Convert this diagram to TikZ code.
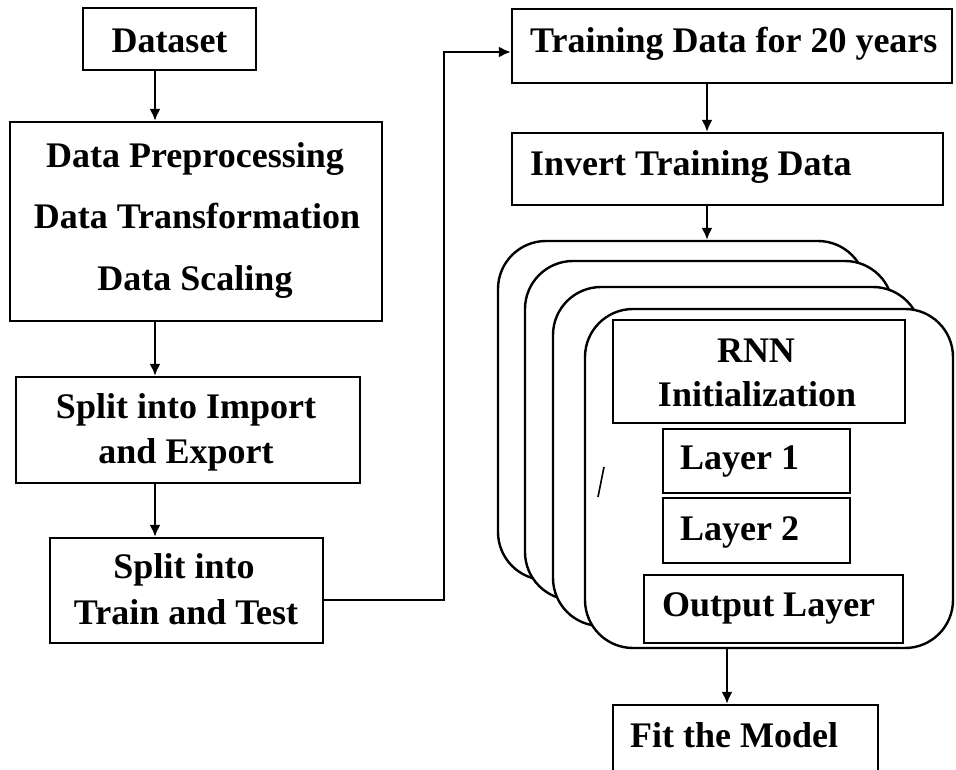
\documentclass[tikz,border=0pt]{standalone}
\usepackage{fontspec}
\setmainfont{Liberation Serif}
\usetikzlibrary{arrows.meta}
\begin{document}
\begin{tikzpicture}[x=1pt,y=-1pt,
  bx/.style={draw, line width=2.4pt, inner sep=0pt},
  rr/.style={draw, line width=2.4pt, fill=white, inner sep=0pt, rounded corners=48pt, minimum width=368pt, minimum height=339pt},
  txt/.style={font=\fontsize{36}{44}\selectfont\bfseries, inner sep=0pt},
  arr/.style={line width=2pt, -{Latex[length=12pt,width=11pt]}}]
\useasboundingbox (0,0) rectangle (956,769);
% left column boxes
\node[bx, minimum width=173pt, minimum height=62pt] (data) at (169.5,39) {};
\node[bx, minimum width=372pt, minimum height=199pt] (prep) at (196,221.5) {};
\node[bx, minimum width=344pt, minimum height=106pt] (imp) at (188,430) {};
\node[bx, minimum width=273pt, minimum height=105pt] (tt) at (186.5,590.5) {};
% right column boxes
\node[bx, minimum width=440pt, minimum height=74pt] (train) at (732,46) {};
\node[bx, minimum width=431pt, minimum height=72pt] (inv) at (727.5,169) {};
% stacked rounded rectangles
\node[rr] (r1) at (682,410.5) {};
\node[rr] (r2) at (709,430.5) {};
\node[rr] (r3) at (737,456.5) {};
\node[rr] (r4) at (769,478.5) {};
\node[bx, minimum width=292pt, minimum height=103pt] (rnn) at (759,371.5) {};
\node[bx, minimum width=187pt, minimum height=64pt] (l1) at (756.5,461) {};
\node[bx, minimum width=187pt, minimum height=65pt] (l2) at (756.5,530.5) {};
\node[bx, minimum width=259pt, minimum height=68pt] (out) at (773.5,609) {};
\node[bx, minimum width=265pt, minimum height=67pt] (fit) at (745.5,738.5) {};
% texts
\node[txt, anchor=base] (tdata) at (169.5,52) {Dataset};
\node[txt, anchor=base] (tp1) at (195,167) {Data Preprocessing};
\node[txt, anchor=base] (tp2) at (197,228) {Data Transformation};
\node[txt, anchor=base] (tp3) at (195,290) {Data Scaling};
\node[txt, anchor=base] (ti1) at (186,418) {Split into Import};
\node[txt, anchor=base] (ti2) at (186,463) {and Export};
\node[txt, anchor=base] (tt1) at (184,578) {Split into};
\node[txt, anchor=base] (tt2) at (186,624) {Train and Test};
\node[txt, anchor=base west] (ttrain) at (530,52) {Training Data for 20 years};
\node[txt, anchor=base west] (tinv) at (530,175) {Invert Training Data};
\node[txt, anchor=base] (trnn1) at (756,362) {RNN};
\node[txt, anchor=base] (trnn2) at (757,406) {Initialization};
\node[txt, anchor=base west] (tl1) at (680,469) {Layer 1};
\node[txt, anchor=base west] (tl2) at (680,540) {Layer 2};
\node[txt, anchor=base west] (tout) at (662,616) {Output Layer};
\node[txt, anchor=base west] (tfit) at (630,747) {Fit the Model};
% stray mark
\draw[line width=1.6pt] (598,497) -- (604,467);
% connectors
\coordinate (cl) at (155,0);
\coordinate (cr) at (707,0);
\coordinate (co) at (727,0);
\coordinate (b1) at (444,600);
\coordinate (b2) at (444,52);
\draw[arr] (cl |- data.south) -- (cl |- prep.north);
\draw[arr] (cl |- prep.south) -- (cl |- imp.north);
\draw[arr] (cl |- imp.south) -- (cl |- tt.north);
\draw[arr] (b1 -| tt.east) -- (b1) -- (b2) -- (b2 -| train.west);
\draw[arr] (cr |- train.south) -- (cr |- inv.north);
\draw[arr] (cr |- inv.south) -- (cr |- r1.north);
\draw[arr] (co |- r4.south) -- (co |- fit.north);
\end{tikzpicture}
\end{document}
